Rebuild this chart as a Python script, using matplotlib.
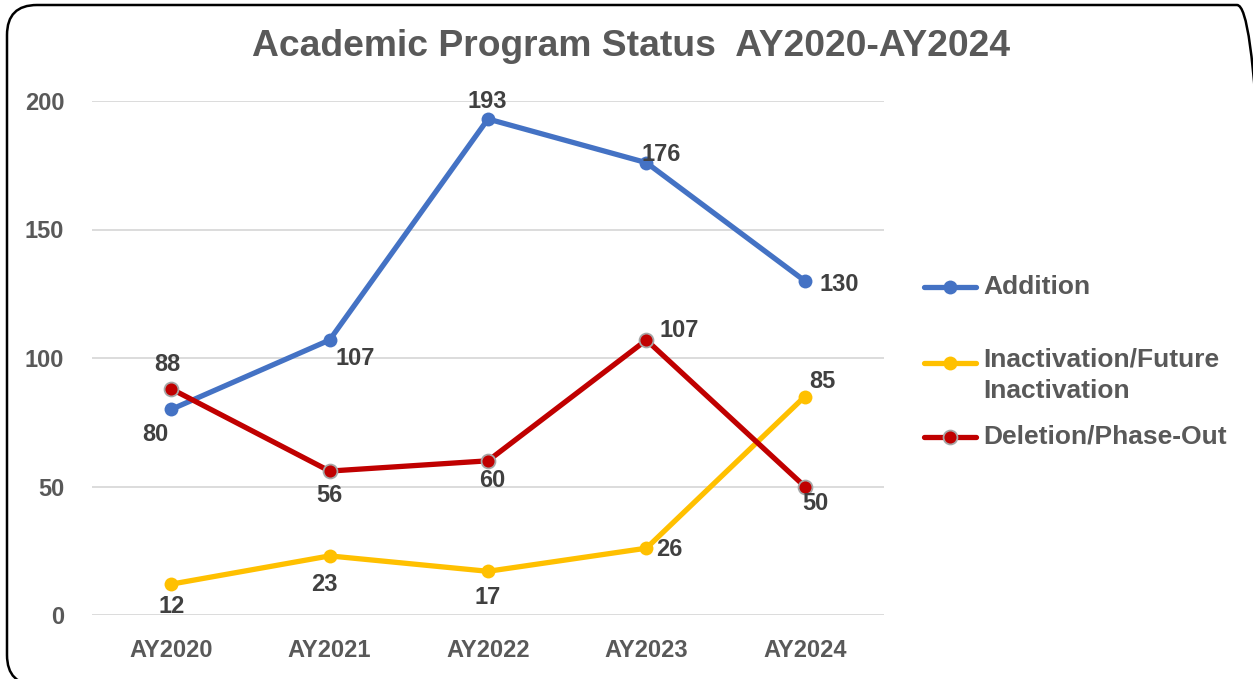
import matplotlib
matplotlib.use("Agg")
import matplotlib.pyplot as plt
from matplotlib.patches import FancyBboxPatch
from matplotlib.lines import Line2D
from matplotlib.transforms import IdentityTransform

# ---- data ----
categories = ["AY2020", "AY2021", "AY2022", "AY2023", "AY2024"]
addition = [80, 107, 193, 176, 130]
inactivation = [12, 23, 17, 26, 85]
deletion = [88, 56, 60, 107, 50]
series_names = ["Addition", "Inactivation/Future\nInactivation", "Deletion/Phase-Out"]
title = "Academic Program Status  AY2020-AY2024"
yticks = [0, 50, 100, 150, 200]

# label offsets in pixels (dx, dy) relative to points
add_off = [(-16, -25), (26, -18), (-1, 17), (15, 8), (34, -4)]
ina_off = [(0, -22), (-5, -29), (0, -26), (23, -1), (18, 15)]
del_off = [(-4, 24), (0, -24), (4, -20), (33, 10), (11, -17)]

plt.rcParams['font.family'] = ['Liberation Sans', 'DejaVu Sans']

fig = plt.figure(figsize=(12.53, 6.79), dpi=100)
ax = fig.add_axes([92/1253, 64/679, 792/1253, 514/679])

colors = ["#4472C4", "#FFC000", "#C00000"]
x = list(range(len(categories)))
all_series = [addition, inactivation, deletion]
offsets = [add_off, ina_off, del_off]
for i, (vals, col, offs) in enumerate(zip(all_series, colors, offsets)):
    mec = "#A6A6A6" if i == 2 else col
    ax.plot(x, vals, color=col, lw=3.8, marker="o", ms=10,
            mfc=col, mec=mec, mew=1.3 if i == 2 else 0, zorder=3 + i,
            solid_capstyle="round")
    for xi, v, (dx, dy) in zip(x, vals, offs):
        ax.annotate(str(v), (xi, v), xytext=(dx * 0.72, dy * 0.72),
                    textcoords="offset points", ha="center", va="center",
                    fontsize=17, fontweight="bold", color="#404040", zorder=10)

ax.set_xlim(-0.5, 4.5)
ax.set_ylim(0, 200)
ax.set_xticks(x)
ax.set_xticklabels(categories)
ax.set_yticks(yticks)
for s in ax.spines.values():
    s.set_visible(False)
ax.grid(axis="y", color="#D9D9D9", lw=1.3, zorder=0)
ax.tick_params(length=0, labelsize=17, labelcolor="#595959")
ax.tick_params(axis="y", pad=20)
ax.tick_params(axis="x", pad=17)
for lbl in ax.get_xticklabels() + ax.get_yticklabels():
    lbl.set_fontweight("bold")

fig.text(631/1253, 1 - 47/679, title, ha="center", va="center",
         fontsize=26.8, fontweight="bold", color="#595959")

# legend (manual)
leg_y = [287, 363, 437]
for name, col, ly, i in zip(series_names, colors, leg_y, range(3)):
    yf = 1 - ly / 679
    fig.add_artist(Line2D([924/1253, 976/1253], [yf, yf], color=col, lw=3.8,
                          solid_capstyle="round"))
    fig.add_artist(Line2D([950/1253], [yf], marker="o", ms=10, color=col,
                          mec="#A6A6A6" if i == 2 else col,
                          mew=1.3 if i == 2 else 0))
    if "\n" in name:
        fig.text(983/1253, 1 - (ly - 15) / 679, name, ha="left", va="top",
                 fontsize=19, fontweight="bold", color="#595959", linespacing=1.35)
    else:
        fig.text(983/1253, yf, name, ha="left", va="center",
                 fontsize=19, fontweight="bold", color="#595959")

border = FancyBboxPatch((7, -6), 1260, 680,
                        boxstyle="round,pad=0,rounding_size=30",
                        transform=IdentityTransform(), fill=False,
                        ec="black", lw=1.8)
fig.add_artist(border)

fig.savefig("out.png", dpi=100)
